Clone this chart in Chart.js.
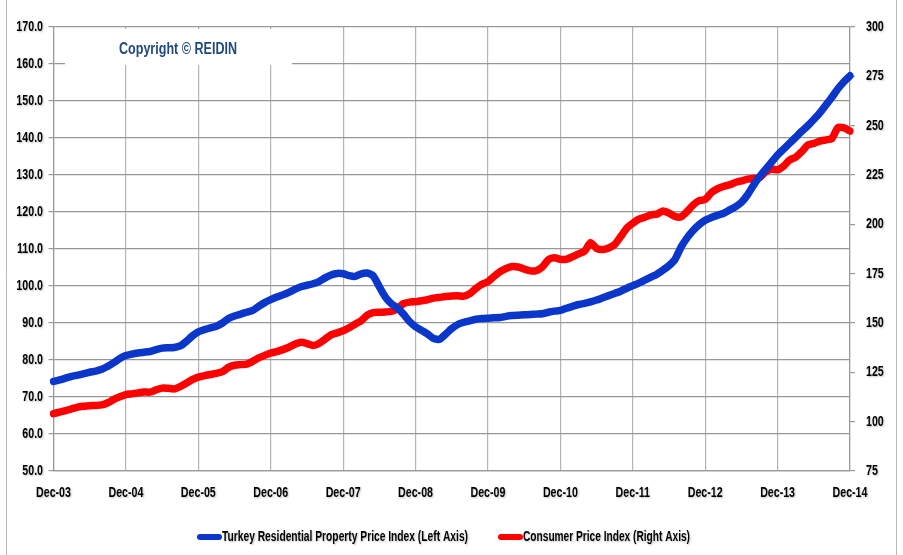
<!DOCTYPE html>
<html>
<head>
<meta charset="utf-8">
<script src="https://cdn.jsdelivr.net/npm/chart.js@4.4.1/dist/chart.umd.min.js"></script>
<style>
  html, body { margin: 0; padding: 0; background: #fff; }
  #wrap { width: 903px; height: 555px; position: relative; }
</style>
</head>
<body>
<div id="wrap"><canvas id="grafico"></canvas></div>
<script>
// dados mensais, Dec-03 .. Dec-14
const meses = ['Jan','Feb','Mar','Apr','May','Jun','Jul','Aug','Sep','Oct','Nov','Dec'];
const anos = ['04','05','06','07','08','09','10','11','12','13','14'];

const rotulos = ['Dec-03'];
anos.forEach(a => meses.forEach(m => rotulos.push(m + '-' + a)));

const residencial = [
  74.2, 74.6, 75.1, 75.6, 75.9, 76.3, 76.7, 77.0, 77.5, 78.3, 79.3, 80.4, 81.2,
  81.6, 81.9, 82.1, 82.3, 82.8, 83.2, 83.3, 83.4, 83.8, 85.0, 86.5, 87.6,
  88.2, 88.7, 89.1, 90.0, 91.2, 91.9, 92.4, 92.9, 93.4, 94.5, 95.5, 96.3,
  97.0, 97.6, 98.3, 99.1, 99.8, 100.2, 100.6, 101.2, 102.2, 103.0, 103.4, 103.3,
  102.8, 102.6, 103.3, 103.5, 102.7, 99.8, 97.0, 95.2, 94.0, 92.4, 90.4, 89.0,
  88.0, 87.0, 85.8, 85.6, 87.0, 88.5, 89.6, 90.2, 90.6, 91.0, 91.2, 91.3,
  91.4, 91.5, 91.8, 92.0, 92.1, 92.2, 92.3, 92.4, 92.5, 92.9, 93.2, 93.4,
  94.0, 94.5, 95.0, 95.3, 95.7, 96.2, 96.8, 97.4, 98.0, 98.6, 99.4, 100.1,
  100.8, 101.6, 102.4, 103.2, 104.3, 105.5, 107.2, 110.5, 113.0, 115.0, 116.6, 117.8,
  118.5, 119.1, 119.6, 120.5, 121.4, 122.6, 124.6, 127.2, 129.5, 131.5, 133.5, 135.4,
  137.0, 138.6, 140.2, 141.8, 143.3, 145.0, 146.8, 148.9, 151.0, 153.3, 155.2, 156.8
];

const cpi = [
  104.1, 104.8, 105.6, 106.5, 107.4, 107.8, 108.1, 108.2, 108.5, 109.6, 111.3, 112.6, 113.7,
  114.1, 114.6, 115.0, 115.0, 116.1, 117.0, 116.9, 116.6, 117.8, 119.5, 121.3, 122.6,
  123.3, 123.9, 124.5, 125.3, 127.5, 128.6, 128.9, 129.2, 130.6, 132.3, 133.6, 134.8,
  135.5, 136.5, 137.7, 139.2, 140.2, 139.6, 138.6, 139.6, 141.8, 144.0, 145.0, 146.1,
  147.6, 149.4, 151.2, 154.0, 155.3, 155.4, 155.6, 155.9, 157.3, 159.8, 160.6, 160.8,
  161.3, 161.8, 162.6, 163.0, 163.4, 163.7, 163.8, 163.6, 164.9, 167.5, 169.6, 171.0,
  173.6, 176.0, 177.6, 178.6, 178.4, 177.3, 176.4, 176.5, 178.4, 182.1, 183.1, 182.3,
  182.3, 183.6, 185.0, 186.3, 190.7, 187.8, 187.2, 188.0, 189.8, 193.8, 198.0, 200.5,
  202.6, 203.6, 204.8, 205.2, 206.8, 205.7, 204.0, 203.8, 206.5, 209.8, 212.0, 212.6,
  216.0, 218.0, 219.2, 220.0, 221.2, 222.0, 222.9, 223.3, 223.6, 226.5, 228.0, 227.6,
  229.5, 232.6, 234.0, 236.8, 240.2, 241.0, 242.2, 242.8, 243.5, 249.0, 248.9, 247.3
];

const nomesSeries = [
  'Turkey Residential Property Price Index (Left Axis)',
  'Consumer Price Index (Right Axis)'
];
const coresSeries = ['#0a36c9', '#ff0000'];

const FONTE = '"Liberation Sans", Arial, sans-serif';
const ESTREITO = 0.76; // compressão horizontal p/ imitar fonte estreita

// escreve texto comprimido na horizontal
function textoEstreito(ctx, txt, x, y, alinhamento, sx) {
  ctx.save();
  ctx.translate(x, y);
  ctx.scale(sx, 1);
  ctx.textAlign = alinhamento;
  ctx.textBaseline = 'middle';
  ctx.fillText(txt, 0, 0);
  ctx.restore();
}

// caixa do copyright, rótulos dos eixos, legenda e borda externa
const extras = {
  id: 'extras',
  beforeDatasetsDraw(chart) {
    const ctx = chart.ctx;
    ctx.save();
    ctx.fillStyle = '#fff';
    ctx.fillRect(65, 29, 227, 36);
    ctx.fillStyle = '#1f497d';
    ctx.font = 'bold 16px ' + FONTE;
    const w = ctx.measureText('Copyright \u00A9 REIDIN').width;
    textoEstreito(ctx, 'Copyright \u00A9 REIDIN', 119, 50, 'left', 118 / w);
    ctx.restore();
  },
  afterDraw(chart) {
    const ctx = chart.ctx;
    ctx.save();
    ctx.fillStyle = '#000';
    ctx.shadowColor = 'rgba(0,0,0,0.25)';
    ctx.shadowBlur = 2;
    ctx.shadowOffsetX = 1;
    ctx.shadowOffsetY = 1;
    ctx.font = 'bold 14px ' + FONTE;

    // rótulos dos eixos
    const sx = chart.scales.x, sy = chart.scales.y, sy1 = chart.scales.y1;
    sx.ticks.forEach((t, i) => {
      if (i % 12 === 0) textoEstreito(ctx, rotulos[i], sx.getPixelForTick(i), 493, 'center', ESTREITO);
    });
    sy.ticks.forEach((t, i) => {
      textoEstreito(ctx, t.value.toFixed(1), 43, sy.getPixelForTick(i), 'right', ESTREITO);
    });
    sy1.ticks.forEach((t, i) => {
      textoEstreito(ctx, String(t.value), 866, sy1.getPixelForTick(i), 'left', ESTREITO);
    });

    // legenda
    const alvo = [246, 167];
    const y = 537;
    let x = 197;
    chart.data.datasets.forEach((ds, i) => {
      ctx.save();
      ctx.shadowColor = 'rgba(0,0,0,0)';
      ctx.strokeStyle = ds.borderColor;
      ctx.lineWidth = 6;
      ctx.lineCap = 'round';
      ctx.beginPath();
      ctx.moveTo(x + 3, y);
      ctx.lineTo(x + 22, y);
      ctx.stroke();
      ctx.restore();
      const w = ctx.measureText(ds.label).width;
      textoEstreito(ctx, ds.label, x + 25, y, 'left', alvo[i] / w);
      x += 25 + alvo[i] + 30;
    });

    // borda externa
    ctx.shadowColor = 'rgba(0,0,0,0)';
    ctx.strokeStyle = '#b8b8b8';
    ctx.lineWidth = 1;
    ctx.beginPath();
    ctx.moveTo(6.5, 0); ctx.lineTo(6.5, 555);
    ctx.moveTo(896.5, 0); ctx.lineTo(896.5, 555);
    ctx.stroke();
    ctx.restore();
  }
};

const ctx = document.getElementById('grafico').getContext('2d');
new Chart(ctx, {
  type: 'line',
  data: {
    labels: rotulos,
    datasets: [{
      label: nomesSeries[0],
      data: residencial,
      yAxisID: 'y',
      borderColor: coresSeries[0],
      backgroundColor: coresSeries[0],
      borderWidth: 7.5,
      pointRadius: 0,
      tension: 0.2,
      borderCapStyle: 'round',
      borderJoinStyle: 'round',
      order: 0
    }, {
      label: nomesSeries[1],
      data: cpi,
      yAxisID: 'y1',
      borderColor: coresSeries[1],
      backgroundColor: coresSeries[1],
      borderWidth: 7.5,
      pointRadius: 0,
      tension: 0.2,
      borderCapStyle: 'round',
      borderJoinStyle: 'round',
      order: 1
    }]
  },
  options: {
    responsive: true,
    maintainAspectRatio: false,
    animation: false,
    layout: { padding: { top: 27, left: 0, right: 0, bottom: 0 } },
    plugins: {
      legend: { display: false },
      tooltip: { enabled: false }
    },
    scales: {
      x: {
        type: 'category',
        afterFit: s => { s.height = 84; },
        grid: {
          drawTicks: false,
          color: c => (c.index % 12 === 0 ? '#b4b4b4' : 'rgba(0,0,0,0)'),
          lineWidth: 1.2
        },
        border: { color: '#999', width: 1.2 },
        ticks: { display: false, autoSkip: false, maxRotation: 0 }
      },
      y: {
        position: 'left',
        min: 50,
        max: 170,
        afterFit: s => { s.width = 53.5; },
        grid: { color: '#979797', lineWidth: 1.2, tickLength: 5 },
        border: { color: '#999', width: 1.2 },
        ticks: { display: false, stepSize: 10 }
      },
      y1: {
        position: 'right',
        min: 75,
        max: 300,
        afterFit: s => { s.width = 53; },
        grid: { drawOnChartArea: false, color: '#979797', lineWidth: 1.2, tickLength: 5 },
        border: { color: '#999', width: 1.2 },
        ticks: { display: false, stepSize: 25 }
      }
    }
  },
  plugins: [extras]
});
</script>
</body>
</html>
